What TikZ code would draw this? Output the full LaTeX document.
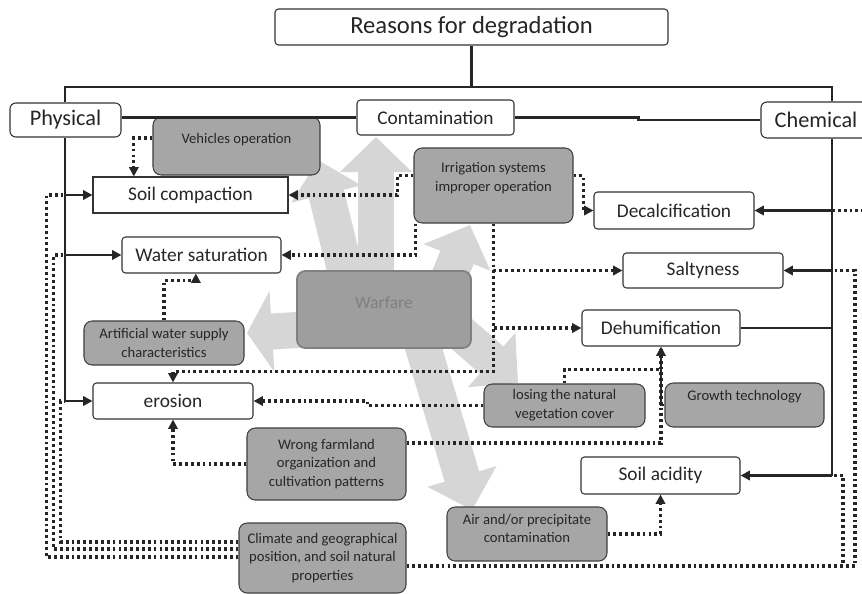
\documentclass[tikz,border=0pt]{standalone}
\usepackage{fontspec}
\setmainfont{Carlito}
\usetikzlibrary{calc,backgrounds,positioning,arrows.meta,shapes}

\begin{document}
\begin{tikzpicture}[x=0.03cm, y=-0.03cm,
    box/.style={draw=black!80, line width=0.9pt, rounded corners=3pt, fill=white, inner sep=0pt,
        text=black!85, font=\fontsize{16.5}{19}\selectfont},
    catbox/.style={box, rounded corners=5pt, font=\fontsize{19}{22}\selectfont},
    cause/.style={draw=black!75, line width=0.9pt, rounded corners=7pt, fill=black!35, inner sep=0pt,
        align=center, text=black!85, font=\fontsize{12.5}{16}\selectfont},
    tree/.style={line width=2.2pt, black!85},
    treearr/.style={tree, -{Triangle[length=8pt,width=8pt]}},
    dotline/.style={line width=2.8pt, dash pattern=on 2.4pt off 2.6pt, black!85},
    dotarr/.style={dotline, -{Triangle[length=8pt,width=8pt]}},
    bigarr/.style={line width=1.08cm, black!16, -{Triangle[length=1.05cm,width=2.1cm]}}]

    \useasboundingbox (0,0) rectangle (862,594);

    % Top of the tree
    \node[box, minimum width=11.79cm, minimum height=1.08cm, font=\fontsize{21}{24}\selectfont] (reasons) at (471.5,27) {Reasons for degradation};
    \node[catbox, minimum width=3.33cm, minimum height=1.02cm] (phys) at (65.5,120) {Physical};
    \node[box, minimum width=4.71cm, minimum height=1.05cm] (cont) at (435.5,117.5) {Contamination};
    \node[catbox, minimum width=3.3cm, minimum height=1.08cm] (chem) at (816,120) {Chemical};

    % Effects
    \node[box, rounded corners=0pt, minimum width=5.85cm, minimum height=1.08cm] (soilc) at (190.5,195) {Soil compaction};
    \node[box, minimum width=4.77cm, minimum height=1.08cm] (water) at (201.5,255) {Water saturation};
    \node[box, minimum width=4.8cm, minimum height=1.08cm] (eros) at (173,401) {erosion};
    \node[box, minimum width=4.8cm, minimum height=1.11cm] (decal) at (674,210.5) {Decalcification};
    \node[box, minimum width=4.8cm, minimum height=1.05cm] (salt) at (703,270.5) {Saltyness};
    \node[box, minimum width=4.74cm, minimum height=1.08cm] (dehum) at (661,328) {Dehumification};
    \node[box, minimum width=4.77cm, minimum height=1.11cm] (acid) at (660.5,475.5) {Soil acidity};

    % Causes
    \node[cause, minimum width=5.01cm, minimum height=1.74cm, text depth=13pt] (veh) at (236.5,146) {Vehicles operation};
    \node[cause, minimum width=4.77cm, minimum height=2.25cm, text depth=14pt] (irr) at (493.5,185.5) {Irrigation systems\\improper operation};
    \node[cause, minimum width=4.8cm, minimum height=1.32cm] (art) at (164,343) {Artificial water supply\\characteristics};
    \node[cause, draw=black!50, line width=1.5pt, fill=black!38, text=black!50, font=\fontsize{15}{18}\selectfont,
        minimum width=5.22cm, minimum height=2.31cm, text depth=12.8pt] (war) at (384,309.5) {Warfare};
    \node[cause, minimum width=4.83cm, minimum height=1.29cm] (losing) at (564.5,405.5) {losing the natural\\vegetation cover};
    \node[cause, minimum width=4.77cm, minimum height=1.32cm, text depth=16.6pt] (growth) at (744.5,405) {Growth technology};
    \node[cause, minimum width=4.77cm, minimum height=2.16cm] (wrong) at (326.5,464) {Wrong farmland\\organization and\\cultivation patterns};
    \node[cause, minimum width=4.8cm, minimum height=1.62cm, text depth=9.4pt] (air) at (527,534) {Air and/or precipitate\\contamination};
    \node[cause, minimum width=5.01cm, minimum height=2.1cm] (clim) at (322.5,558) {Climate and geographical\\position, and soil natural\\properties};

    % Solid tree lines
    \coordinate (lt) at (65,87);
    \coordinate (rt) at (832,87);
    \draw[tree] (reasons.south) -- (reasons.south |- lt);
    \draw[tree] (phys.north -| lt) -- (lt) -- (rt) -- (rt |- chem.north);
    \draw[tree] (phys.south -| lt) -- (lt |- eros.west);
    \draw[treearr] (lt |- soilc.west) -- (soilc.west);
    \draw[treearr] (lt |- water.west) -- (water.west);
    \draw[treearr] (lt |- eros.west) -- (eros.west);
    \draw[tree] (phys.east |- cont.west) -- (cont.west);
    \draw[tree] (cont.east) -- ++(124,0) |- (chem.west);
    \draw[tree] (rt |- chem.south) -- (rt |- acid.east);
    \draw[treearr] (rt |- decal.east) -- (decal.east);
    \draw[treearr] (rt |- salt.east) -- (salt.east);
    \draw[tree] (rt |- dehum.east) -- (dehum.east);
    \draw[treearr] (rt |- acid.east) -- (acid.east);
    \draw[treearr] (growth.west) -| (dehum.south);

    % Dotted links
    \draw[dotarr] ([yshift=0.24cm]veh.west) -| ([xshift=-1.7cm]soilc.north);
    \draw[dotarr] ([yshift=0.29cm]irr.west) -- ++(-16,0) |- (soilc.east);
    \draw[dotarr] ([xshift=0.06cm]irr.south west) |- (water.east);
    \draw[dotarr] ([yshift=0.29cm]irr.east) -- ++(10,0) |- (decal.west);
    \draw[dotarr] (irr.south) |- (salt.west);
    \draw[dotarr] (irr.south) |- (dehum.west);
    \draw[dotarr] (irr.south) |- ([yshift=0.33cm]eros.north) -- (eros.north);
    \draw[dotarr] (art.north) |- ([shift={(-0.17cm,-0.21cm)}]water.south) -- ([xshift=-0.17cm]water.south);
    \draw[dotarr] (losing.west) -- ++(-116,0) |- (eros.east);
    \draw[dotarr] (wrong.west) -| (eros.south);
    \draw[dotline] ([yshift=0.63cm]wrong.east) -| (dehum.south);
    \draw[dotline] (losing.north) |- ([yshift=-0.69cm]dehum.south);
    \draw[dotarr] (air.east) -| (acid.south);
    \draw[dotline] ([yshift=0.48cm]clim.west) -| ([xshift=-0.96cm]eros.west) -- (lt |- eros.west);
    \draw[dotline] ([yshift=0.27cm]clim.west) -| ([xshift=-2.04cm]water.west) -- (lt |- water.west);
    \draw[dotline] ([yshift=0.03cm]clim.west) -| ([xshift=-1.38cm]soilc.west) -- (lt |- soilc.west);
    \coordinate (cs) at (rt |- salt.east);
    \coordinate (ca) at (rt |- acid.east);
    \draw[dotline] ([yshift=-0.24cm]clim.east) -| ([xshift=0.69cm]cs) -- (cs);
    \draw[dotline] ([yshift=-0.24cm]clim.east) -| ([xshift=0.33cm]ca) -- (ca);
    \draw[dotline] (rt |- decal.east) -- ++(32,0);

    % Warfare arrows behind the boxes
    \begin{scope}[on background layer]
        \draw[bigarr] ($(war.center)+(-8,0)$) -- (376,137);
        \draw[bigarr] ($(war.center)+(-34,-19.5)$) -- (318,160);
        \draw[bigarr, -{Triangle[length=0.75cm,width=2.4cm]}] ($(war.center)+(-54,18.5)$) -- (247,333);
        \draw[bigarr] ($(war.center)+(56,-9.5)$) -- (470,225);
        \draw[bigarr] ($(war.center)+(56,5.5)$) -- (518,383);
        \draw[bigarr] ($(war.center)+(31,10.5)$) -- (472,510);
    \end{scope}
\end{tikzpicture}
\end{document}
